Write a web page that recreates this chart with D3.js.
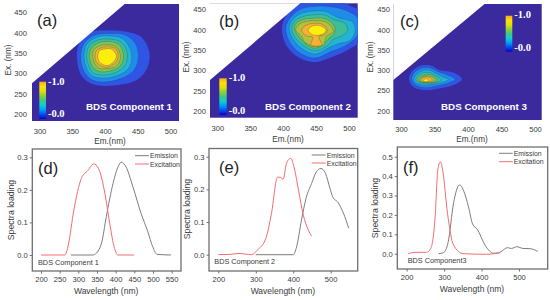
<!DOCTYPE html>
<html>
<head>
<meta charset="utf-8">
<script src="https://cdn.jsdelivr.net/npm/d3@7"></script>
<style>
  html, body { margin: 0; padding: 0; background: #fff; }
  svg { display: block; }
  text { font-family: "Liberation Sans", Arial, sans-serif; }
</style>
</head>
<body>
<svg id="chart" width="550" height="300"></svg>
<script>
// contour rings, [em, ex], outermost first
const ringsA = [
  [[357,341],[362,378],[377,401],[403,405],[433,402],[456,388],[468,349],[464,312],[449,284],[413,270],[382,273],[365,292]],
  [[363,345],[368,374],[385,394],[408,398],[431,394],[446,374],[451,345],[446,312],[431,292],[403,279],[380,284],[367,308]],
  [[368,345],[372,371],[388,389],[408,392],[426,386],[437,365],[441,341],[436,312],[421,296],[398,288],[380,294],[371,316]],
  [[372,345],[376,368],[390,382],[408,384],[423,378],[432,360],[434,337],[428,314],[413,300],[395,296],[381,302],[375,320]],
  [[376,345],[380,363],[392,376],[408,378],[421,371],[427,355],[428,335],[422,316],[408,306],[393,304],[383,312],[378,327]],
  [[381,345],[383,358],[393,368],[408,370],[418,363],[423,349],[423,333],[416,316],[403,312],[392,312],[385,322]],
  [[385,345],[387,356],[395,363],[407,365],[416,360],[420,347],[418,330],[410,319],[402,315],[393,319],[386,330]],
  [[389,343],[392,356],[400,360],[409,360],[416,349],[417,338],[410,324],[403,319],[394,324],[390,333]]
];
const ringsB = [
  [[398,402],[404,433],[419,457],[433,471],[483,471],[501,459],[520,442],[520,377],[501,353],[473,332],[448,320],[423,332],[405,361]],
  [[404,402],[409,426],[423,447],[440,456],[468,457],[496,447],[514,426],[514,389],[499,365],[473,346],[448,330],[425,343],[410,369]],
  [[409,402],[413,422],[425,438],[443,445],[463,445],[483,430],[506,418],[509,393],[501,373],[483,365],[471,357],[448,340],[428,354],[415,377]],
  [[413,402],[417,420],[428,431],[443,436],[463,436],[476,425],[493,416],[498,398],[488,384],[476,376],[468,362],[448,348],[430,362],[418,381]],
  [[417,402],[420,416],[430,425],[445,428],[461,428],[473,418],[479,403],[477,389],[471,381],[463,367],[448,354],[433,367],[423,385]],
  [[419,400],[424,413],[434,420],[448,422],[463,420],[473,408],[476,395],[466,384],[461,362],[448,358],[433,369],[428,384]],
  [[428,398],[432,408],[440,414],[456,415],[464,408],[467,398],[462,387],[454,383],[459,362],[451,360],[442,362],[445,381],[435,385]],
  [[438,398],[442,407],[451,411],[459,408],[465,400],[462,391],[453,386],[444,388]]
];
const ringsC = [
  [[312,278],[316,296],[328,310],[343,312],[358,300],[378,294],[391,278],[381,265],[358,255],[333,251],[318,259]],
  [[316,278],[319,292],[329,304],[342,306],[356,296],[371,287],[381,278],[372,269],[353,261],[333,257],[321,265]],
  [[319,278],[322,287],[331,298],[342,300],[352,292],[363,283],[371,277],[363,270],[348,265],[333,263],[323,268]],
  [[322,277],[325,285],[332,293],[342,294],[351,287],[357,281],[361,276],[354,270],[343,267],[332,267],[326,270]],
  [[325,276],[328,283],[334,287],[342,289],[349,284],[354,275],[349,270],[341,269],[332,270],[327,272]],
  [[327,275],[331,282],[336,285],[343,285],[348,281],[351,275],[347,271],[339,270],[332,271]],
  [[329,275],[332,280],[338,283],[343,282],[347,275],[343,272],[337,271],[332,272]],
  [[333,275],[336,278],[339,278],[342,275],[339,272],[336,272]]
];
const ringColors = ["#2f55e4", "#1f8cec", "#22b4d2", "#3cbf98", "#86c24a", "#b6bf3c", "#f7b032", "#fbee0c"];
const barColors = ["#0a00c8", "#0050f0", "#00a0f0", "#10d0d0", "#40c880", "#90d030", "#e0e010", "#ffe000", "#f8a820"];
const blankCorner = [[280,264],[437,480],[280,480]];
const emTicks = [300, 350, 400, 450, 500];
const exTicks = [200, 250, 300, 350, 400, 450];

const wavelengthD = [200, 250, 300, 350, 400, 450, 500, 550];
const wavelengthE = [200, 300, 400, 500];
const loadingD = [0, 0.1, 0.2, 0.3];
const loadingF = [0, 0.1, 0.2, 0.3, 0.4, 0.5];

const emissionD = [[280,0],[340,0],[344,0.002],[362,0.036],[375,0.118],[393,0.22],[406,0.27],[415,0.285],[428,0.27],[446,0.21],[468,0.128],[486,0.072],[499,0.026],[511,0.002],[548,0]];
const excitationD = [[200,0],[264,0],[273,0.03],[288,0.138],[308,0.235],[326,0.26],[341,0.28],[354,0.266],[371,0.19],[384,0.097],[397,0.02],[406,0],[449,0]];
const emissionE = [[300,0],[400,0],[409,0.024],[422,0.106],[434,0.172],[449,0.218],[462,0.254],[474,0.264],[486,0.249],[498,0.203],[505,0.178],[520,0.159],[534,0.127],[548,0.081]];
const excitationE = [[200,0],[231,0.001],[258,0.004],[271,0.002],[289,0],[304,0.014],[327,0.05],[342,0.127],[358,0.237],[365,0.237],[373,0.231],[382,0.28],[393,0.295],[402,0.269],[414,0.198],[427,0.121],[440,0.076],[449,0.057]];
const emissionF = [[285,0],[298,0.005],[311,0.062],[325,0.259],[341,0.354],[353,0.32],[365,0.242],[376,0.153],[389,0.125],[409,0.045],[433,0.002],[449,0.007],[469,0.031],[480,0.027],[494,0.036],[511,0.027],[529,0.026],[550,0.012]];
const excitationF = [[204,0],[222,0.007],[253,0.007],[264,0.026],[276,0.19],[283,0.431],[290,0.474],[296,0.431],[309,0.208],[325,0.045],[351,0],[414,-0.003],[449,0.005]];

const svg = d3.select("#chart");
const defs = svg.append("defs");
const textColor = "#3a3a3a";

// vertical colour ramp shared by the three colour bars
const ramp = defs.append("linearGradient").attr("id", "ramp")
  .attr("x1", 0).attr("x2", 0).attr("y1", 1).attr("y2", 0);
ramp.selectAll("stop").data(barColors).enter().append("stop")
  .attr("offset", (d, i) => i / (barColors.length - 1))
  .attr("stop-color", d => d);

function label(g, x, y, str, size, opts) {
  opts = opts || {};
  return g.append("text")
    .attr("x", x).attr("y", y)
    .attr("font-size", size)
    .attr("fill", opts.fill || textColor)
    .attr("font-weight", opts.weight || null)
    .attr("text-anchor", opts.anchor || "start")
    .attr("dominant-baseline", opts.middle ? "central" : null)
    .attr("transform", opts.rotate ? `rotate(-90 ${x} ${y})` : null)
    .text(str);
}

function heatPanel(p) {
  const g = svg.append("g");
  const x = d3.scaleLinear().domain([300, 500]).range(p.xr);
  const y = d3.scaleLinear().domain([200, 450]).range(p.yr);
  const [bl, br, bt, bb] = p.box;

  defs.append("clipPath").attr("id", p.id)
    .append("rect").attr("x", bl).attr("y", bt).attr("width", br - bl).attr("height", bb - bt);

  g.append("rect").attr("x", bl).attr("y", bt).attr("width", br - bl).attr("height", bb - bt)
    .attr("fill", "#3a2a9e");

  const ring = d3.line().x(d => x(d[0])).y(d => y(d[1])).curve(d3.curveCatmullRomClosed.alpha(0.5));
  const inner = g.append("g").attr("clip-path", `url(#${p.id})`);
  inner.selectAll("path.ring").data(p.rings).enter().append("path")
    .attr("class", "ring")
    .attr("d", ring)
    .attr("fill", (d, i) => ringColors[i])
    .attr("stroke", (d, i) => i ? "#2a3a5a" : "none")
    .attr("stroke-opacity", 0.55)
    .attr("stroke-width", 0.5);

  inner.append("path")
    .attr("d", d3.line().x(d => x(d[0])).y(d => y(d[1]))(blankCorner) + "Z")
    .attr("fill", "#fff");

  const xAxis = d3.axisBottom(x).tickValues(emTicks).tickSize(0).tickPadding(0);
  const yAxis = d3.axisLeft(y).tickValues(exTicks).tickSize(0).tickPadding(0);
  const ax = g.append("g").attr("transform", `translate(0,${p.tickY})`).call(xAxis);
  const ay = g.append("g").attr("transform", `translate(${p.tickX},0)`).call(yAxis);
  [ax, ay].forEach(a => {
    a.select(".domain").remove();
    a.selectAll("text").attr("font-size", 7.6).attr("fill", textColor)
      .style("font-family", '"Liberation Sans", Arial, sans-serif');
  });
  ax.selectAll("text").attr("y", 0).attr("dy", "0.35em");

  label(g, p.emLabel[0], p.emLabel[1], "Em.(nm)", 8.2, { anchor: "middle", middle: true });
  label(g, p.exLabel[0], p.exLabel[1], "Ex. (nm)", 8.2, { anchor: "middle", middle: true, rotate: true });
  label(g, p.tag[0], p.tag[1], p.tagText, 16.5, { fill: "#222" });
  label(g, p.name[0], p.name[1], p.nameText, 9.8, { fill: "#fff", weight: "bold" });

  const [cl, cr, ct, cb] = p.bar;
  g.append("rect").attr("x", cl).attr("y", ct).attr("width", cr - cl).attr("height", cb - ct)
    .attr("fill", "url(#ramp)");
  [[p.barHi, "-1.0"], [p.barLo, "-0.0"]].forEach(([yy, s]) => {
    label(g, cr + 2, yy, s, 10.5, { fill: "#fff", weight: "bold", middle: true })
      .style("font-family", '"Liberation Serif", serif');
  });
}

function spectraPanel(p) {
  const g = svg.append("g");
  const x = d3.scaleLinear().domain([200, 500]).range(p.xr);
  const y = d3.scaleLinear().domain([0, p.yTop]).range(p.yr);
  const [bl, br, bt, bb] = p.box;

  const curve = d3.line().x(d => x(d[0])).y(d => y(d[1])).curve(d3.curveMonotoneX);
  g.append("path").attr("d", curve(p.emission)).attr("fill", "none").attr("stroke", "#7d7d7d").attr("stroke-width", 1);
  g.append("path").attr("d", curve(p.excitation)).attr("fill", "none").attr("stroke", "#f46c70").attr("stroke-width", 1);

  g.append("rect").attr("x", bl).attr("y", bt).attr("width", br - bl).attr("height", bb - bt)
    .attr("fill", "none").attr("stroke", "#6f6f6f").attr("stroke-width", 1.3);

  const ax = g.append("g").attr("transform", `translate(0,${bb})`)
    .call(d3.axisBottom(x).tickValues(p.xTicks).tickSize(2.5).tickPadding(p.xPad).tickFormat(d3.format("d")));
  const ay = g.append("g").attr("transform", `translate(${bl},0)`)
    .call(d3.axisLeft(y).tickValues(p.yTicks).tickSize(2.5).tickPadding(2).tickFormat(d3.format(".1f")));
  [ax, ay].forEach(a => {
    a.select(".domain").remove();
    a.selectAll("line").attr("stroke", "#6f6f6f");
    a.selectAll("text").attr("font-size", 7.6).attr("fill", textColor)
      .style("font-family", '"Liberation Sans", Arial, sans-serif');
  });

  label(g, (bl + br) / 2 + p.wlShift, p.wlY, "Wavelength (nm)", 8.5, { anchor: "middle", middle: true });
  label(g, p.slLabel[0], p.slLabel[1], "Spectra loading", 8.7, { anchor: "middle", middle: true, rotate: true });
  label(g, p.tag[0], p.tag[1], p.tagText, 16.5, { fill: "#222" });
  label(g, p.name[0], p.name[1], p.nameText, 7.3);

  const [ll, lr, ly1, ly2] = p.legend;
  [[ly1, "Emission", "#7d7d7d"], [ly2, "Excitation", "#f46c70"]].forEach(([yy, s, col]) => {
    g.append("line").attr("x1", ll).attr("x2", lr).attr("y1", yy).attr("y2", yy).attr("stroke", col).attr("stroke-width", 1);
    label(g, lr + 1, yy, s, 6.9, { middle: true });
  });
}

heatPanel({
  id: "clipA", rings: ringsA, box: [32, 179, 4, 121], xr: [39.5, 170.5], yr: [114, 12.3],
  tickY: 131.7, tickX: 27, emLabel: [110, 141.7], exLabel: [8, 60],
  tag: [37, 26], tagText: "(a)", name: [86, 110], nameText: "BDS Component 1",
  bar: [39.3, 46, 81.7, 119], barHi: 81.7, barLo: 113.7
});
heatPanel({
  id: "clipB", rings: ringsB, box: [210, 357.7, 3.3, 117.7], xr: [217.3, 349], yr: [111, 9.3],
  tickY: 128.5, tickX: 206, emLabel: [288, 139], exLabel: [186, 57],
  tag: [219, 26.7], tagText: "(b)", name: [265, 110], nameText: "BDS Component 2",
  bar: [219.3, 226.7, 78.3, 115], barHi: 77.7, barLo: 110.3
});
heatPanel({
  id: "clipC", rings: ringsC, box: [393.3, 541.7, 4, 120], xr: [401, 535], yr: [110.7, 9.3],
  tickY: 129.3, tickX: 390, emLabel: [472, 139], exLabel: [370, 57],
  tag: [400, 26.7], tagText: "(c)", name: [441, 110], nameText: "BDS Component 3",
  bar: [505.7, 512.3, 15.7, 51.7], barHi: 14.3, barLo: 47
});

spectraPanel({
  emission: emissionD, excitation: excitationD, box: [32.3, 181, 149, 271],
  xr: [41, 153], yr: [255, 157.3], yTop: 0.3, xTicks: wavelengthD, yTicks: loadingD, xPad: 3,
  wlShift: -0.5, wlY: 291.3, slLabel: [10.7, 210],
  tag: [38, 174], tagText: "(d)", name: [38, 264.7], nameText: "BDS Component 1",
  legend: [135, 149, 155.7, 164]
});
spectraPanel({
  emission: emissionE, excitation: excitationE, box: [209, 357.7, 148.5, 271],
  xr: [218.3, 330.7], yr: [254.7, 156.7], yTop: 0.3, xTicks: wavelengthE, yTicks: loadingD, xPad: 3,
  wlShift: -0.5, wlY: 291, slLabel: [186.7, 209],
  tag: [219, 172.7], tagText: "(e)", name: [214.3, 264], nameText: "BDS Component 2",
  legend: [311.7, 325.7, 155, 163]
});
spectraPanel({
  emission: emissionF, excitation: excitationF, box: [397.3, 547.7, 147, 269],
  xr: [406.7, 519], yr: [253.7, 156.7], yTop: 0.5, xTicks: wavelengthE, yTicks: loadingF, xPad: 3,
  wlShift: -0.5, wlY: 289.3, slLabel: [375.3, 208],
  tag: [403, 172.7], tagText: "(f)", name: [407.7, 262.7], nameText: "BDS Component3",
  legend: [499, 512.7, 153.3, 161.7]
});
</script>
</body>
</html>
